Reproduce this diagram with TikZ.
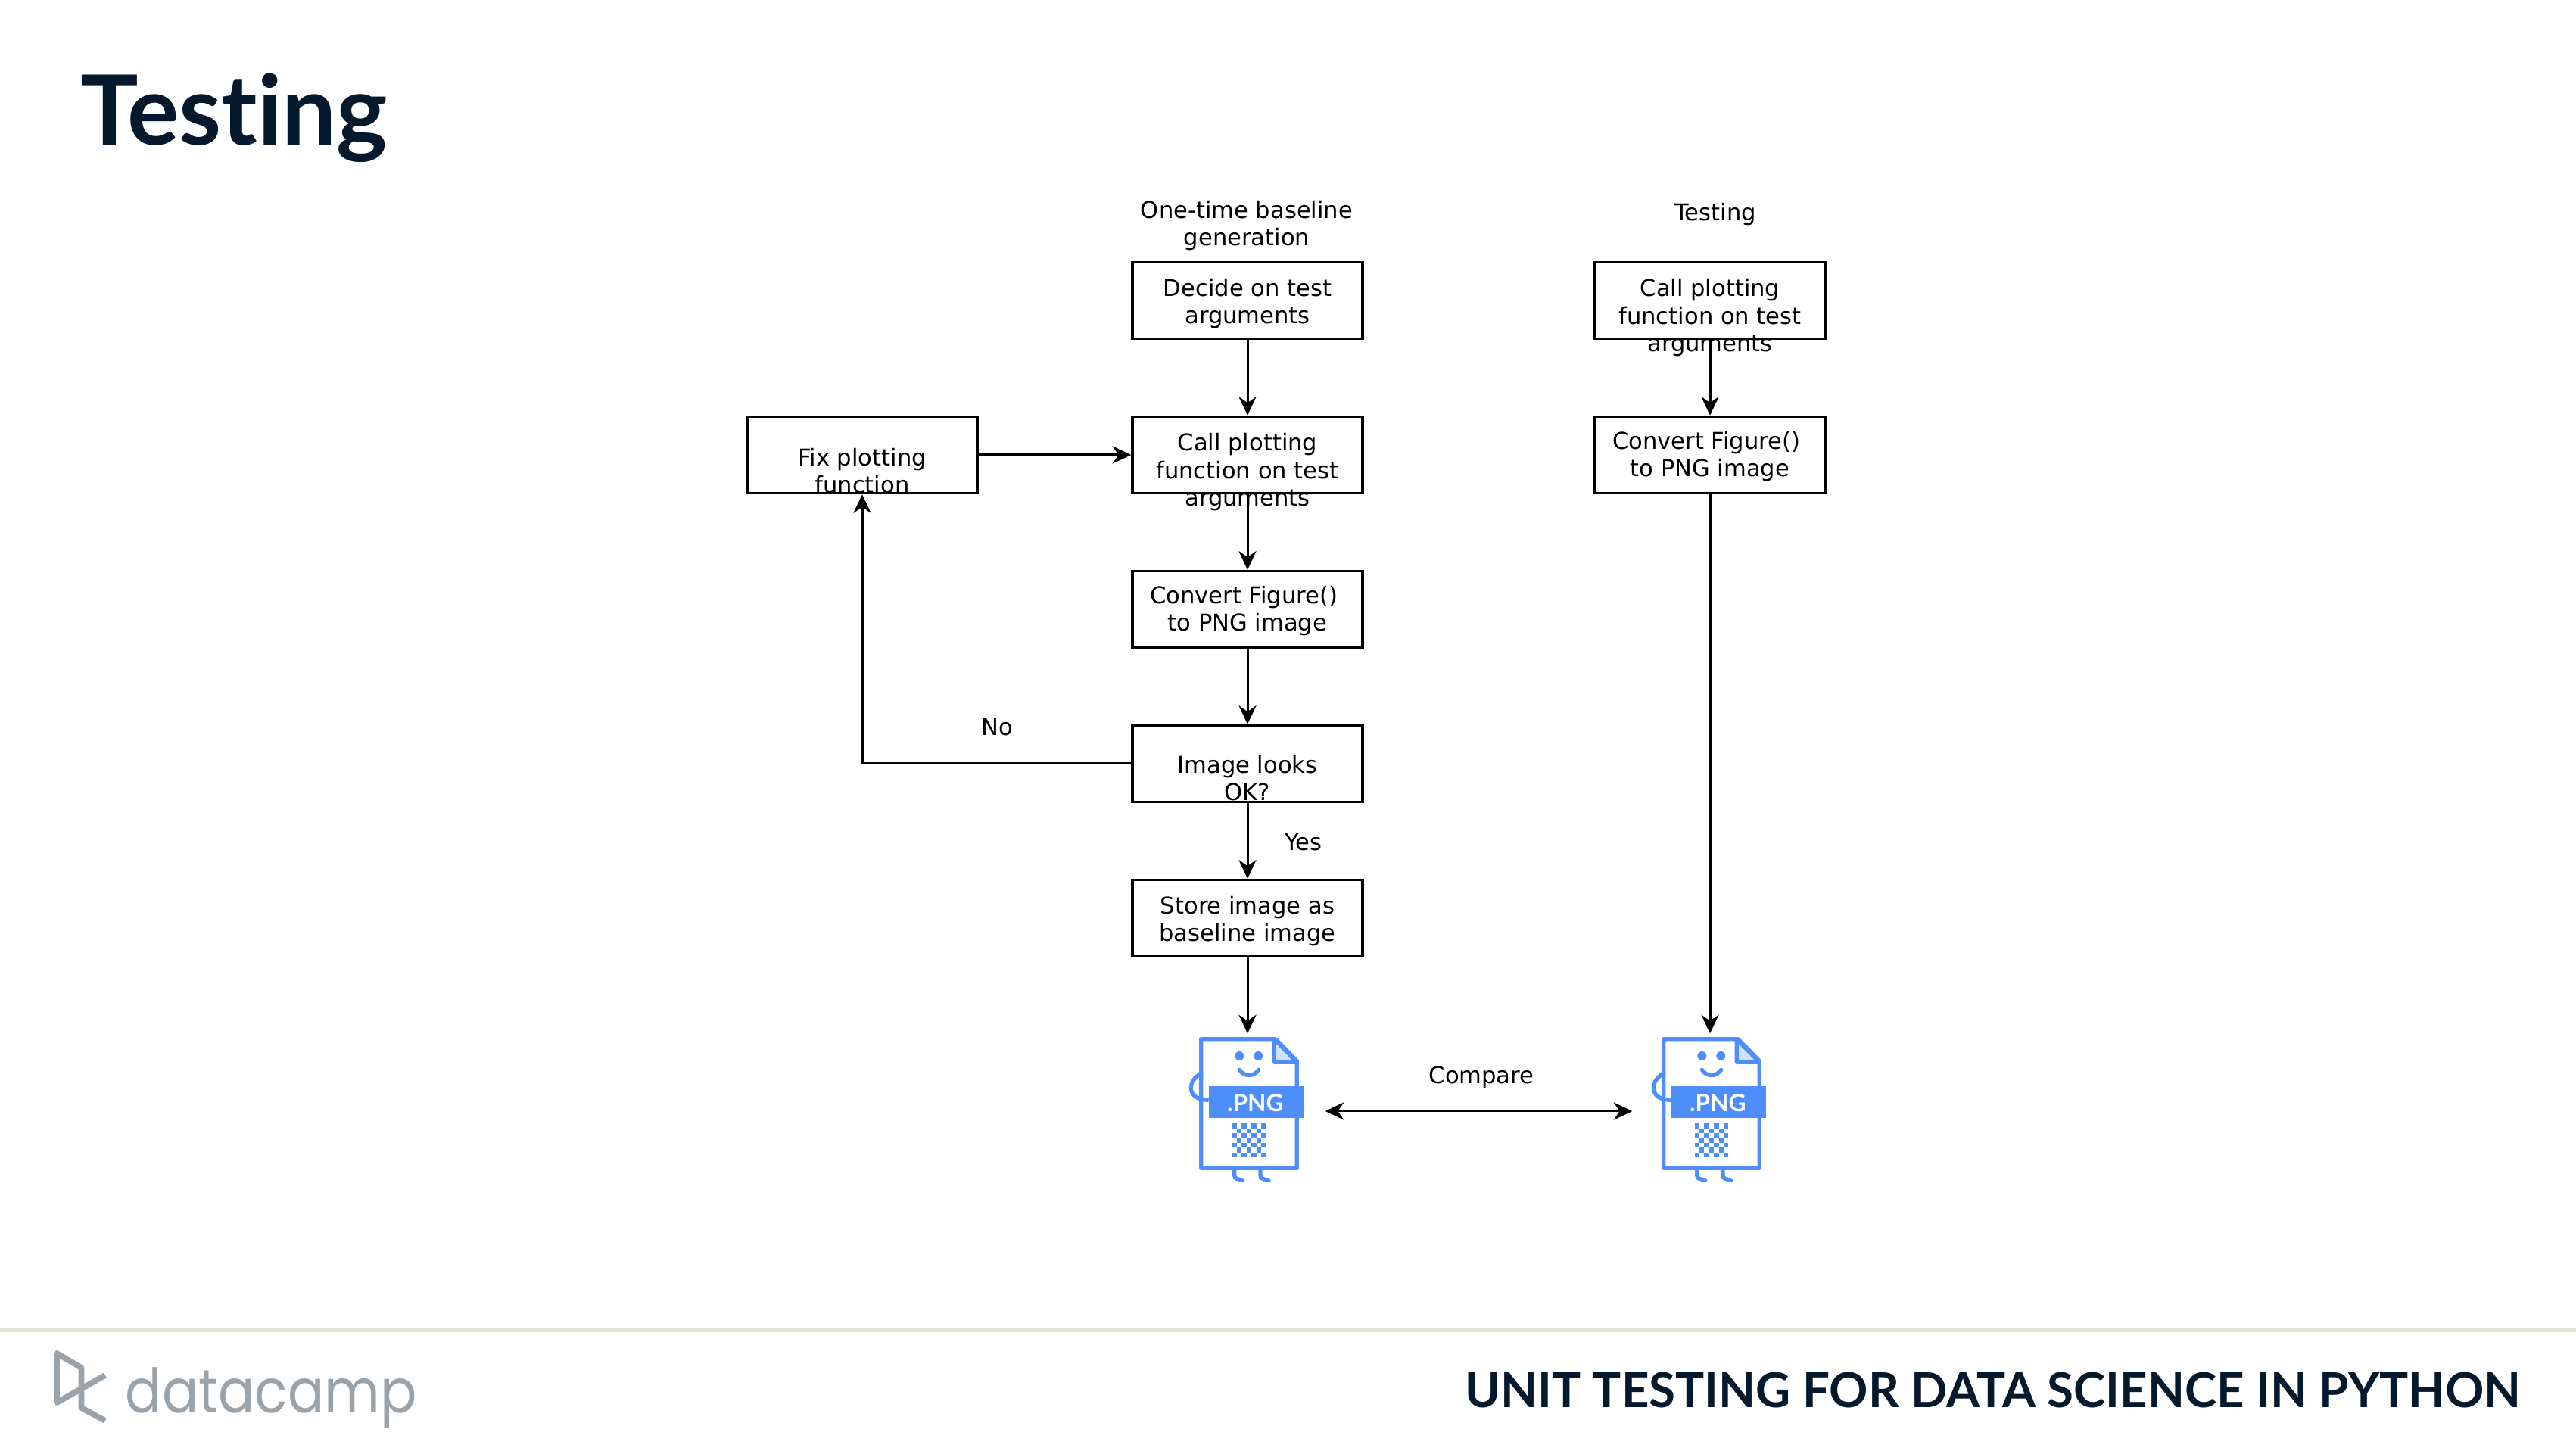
\documentclass[tikz,border=0pt]{standalone}
\usepackage{fontspec}
\setmainfont{DejaVu Sans}
\newfontfamily\brandfont[FakeStretch=0.885]{Poppins}
\newfontfamily\pngfont[Ligatures=NoCommon]{Lato}
\usetikzlibrary{arrows.meta}
\usetikzlibrary{calc}

\definecolor{navy}{HTML}{05192D}
\definecolor{pngblue}{HTML}{4D8EFA}
\definecolor{pngfold}{HTML}{D0E1FB}
\definecolor{logogrey}{HTML}{9BA3AA}
\definecolor{rulegrey}{HTML}{E5E1DA}

\tikzset{
    >={Stealth[length=7pt, width=6.6pt]},
    stepbox/.style={draw=black, line width=1pt, minimum width=3.04cm, minimum height=1.01cm, inner sep=0pt},
    steptext/.style={align=center, font=\fontsize{8.7pt}{10.4pt}\selectfont},
    iconbox/.style={minimum width=2.04cm, minimum height=2.04cm, inner sep=0pt},
    flow/.style={->, line width=0.85pt},
    pngfile/.pic={
        % Body with the folded corner
        \draw[pngblue, line width=1.5pt, line join=round] (-.613,.933) -- (.37,.933) -- (.653,.643) -- (.653,-.773) -- (-.613,-.773) -- cycle;
        \draw[pngblue, fill=pngfold, line width=1.5pt, line join=round] (.353,.933) -- (.353,.627) -- (.653,.627) -- cycle;
        % Face
        \fill[pngblue] (-.107,.71) circle (.06);
        \fill[pngblue] (.143,.71) circle (.06);
        \draw[pngblue, line width=1.5pt, line cap=round] (-.107,.527) .. controls (-.04,.43) and (.08,.43) .. (.147,.527);
        % Arm and legs
        \draw[pngblue, line width=1.5pt] (-.597,.493) .. controls (-.70,.43) and (-.747,.36) .. (-.747,.293) .. controls (-.747,.18) and (-.65,.127) .. (-.513,.127);
        \draw[pngblue, line width=1.5pt, line cap=round] (-.173,-.773) -- (-.173,-.87) .. controls (-.173,-.92) and (-.12,-.92) .. (-.063,-.93);
        \draw[pngblue, line width=1.5pt, line cap=round] (.17,-.773) -- (.17,-.87) .. controls (.17,-.92) and (.22,-.92) .. (.28,-.93);
        % Banner
        \fill[pngblue] (-.513,-.107) rectangle (.737,.31);
        \node[text=white, font=\pngfont\bfseries\fontsize{9pt}{9pt}\selectfont] (-label) at (.103,.093) {.PNG};
        % Checker pattern
        \foreach \row in {0,...,6} {
            \foreach \col in {0,...,6} {
                \pgfmathtruncatemacro{\odd}{mod(\row+\col,2)}
                \ifnum\odd=0
                    \fill[pngblue] ({-.203+\col*.0638},{-.183-\row*.0638}) rectangle ++(.0638,-.0638);
                \fi
            }
        }
    }
}

\begin{document}
\begin{tikzpicture}

        \useasboundingbox (0,0) rectangle (34.03,19.17);

        % === SLIDE FRAME ===
        \node[anchor=base west, inner sep=0pt, text=navy, font=\pngfont\bfseries\fontsize{36.4pt}{36.4pt}\selectfont] (slidetitle) at (1.06,17.25) {Testing};
        \fill[rulegrey] (0,1.57) rectangle (34.03,1.62);
        \draw[logogrey, line width=2.2pt, line join=round] (1.39,1.0) -- (0.75,0.64) -- (0.75,1.29) -- (1.076,1.10) -- (1.076,0.57) -- (1.39,0.40);
        \node[anchor=base west, text=logogrey, font=\brandfont\fontsize{23pt}{23pt}\selectfont, inner sep=0pt] (brandname) at (1.65,0.50) {datacamp};
        \node[anchor=base east, text=navy, font=\pngfont\bfseries\fontsize{18.1pt}{18.1pt}\selectfont, inner sep=0pt] (coursename) at (33.31,0.57) {UNIT TESTING FOR DATA SCIENCE IN PYTHON};

        % === LEFT COLUMN: One-time baseline generation ===
        \node[steptext] (basehead) at (16.47,16.19) {One-time baseline\\generation};
        \node[stepbox] (decide) at (16.48,15.20) {};
        \node[steptext] (decidetext) at (16.48,15.16) {Decide on test\\arguments};
        \node[stepbox] (call) at (16.48,13.16) {};
        \node[steptext] (calltext) at (16.48,12.93) {Call plotting\\function on test\\arguments};
        \node[stepbox] (convert) at (16.48,11.12) {};
        \node[steptext] (converttext) at (16.48,11.10) {Convert Figure()\hspace*{.1cm}\\to PNG image};
        \node[stepbox] (check) at (16.48,9.08) {};
        \node[steptext] (checktext) at (16.48,8.89) {Image looks\\OK?};
        \node[stepbox] (store) at (16.48,7.04) {};
        \node[steptext] (storetext) at (16.48,7.00) {Store image as\\baseline image};
        \node[stepbox] (fix) at (11.39,13.16) {};
        \node[steptext] (fixtext) at (11.39,12.95) {Fix plotting\\function};
        \node[iconbox] (baseimg) at (16.48,4.49) {};
        \pic at ($(baseimg)+(0,.02)$) {pngfile};

        % === RIGHT COLUMN: Testing ===
        \node[steptext] (testhead) at (22.66,16.34) {Testing};
        \node[stepbox] (testcall) at (22.59,15.20) {};
        \node[steptext] (testcalltext) at (22.59,14.97) {Call plotting\\function on test\\arguments};
        \node[stepbox] (testconvert) at (22.59,13.16) {};
        \node[steptext] (testconverttext) at (22.59,13.14) {Convert Figure()\hspace*{.1cm}\\to PNG image};
        \node[iconbox] (testimg) at (22.59,4.49) {};
        \pic at ($(testimg)+(0,.02)$) {pngfile};

        % Connectors
        \draw[flow] (decide) -- (call);
        \draw[flow] (call) -- (convert);
        \draw[flow] (convert) -- (check);
        \draw[flow] (check) -- (store);
        \draw[flow] (store) -- (baseimg);
        \draw[flow] (fix) -- (call);
        \draw[flow] (check) -| (fix);
        \draw[flow] (testcall) -- (testconvert);
        \draw[flow] (testconvert) -- (testimg);
        \draw[flow, <->] (baseimg) -- (testimg);

        % Edge labels
        \node[steptext] (nolabel) at (13.17,9.56) {No};
        \node[steptext] (yeslabel) at (17.22,8.04) {Yes};
        \node[steptext] (comparelabel) at (19.57,4.94) {Compare};

    \end{tikzpicture}
\end{document}
